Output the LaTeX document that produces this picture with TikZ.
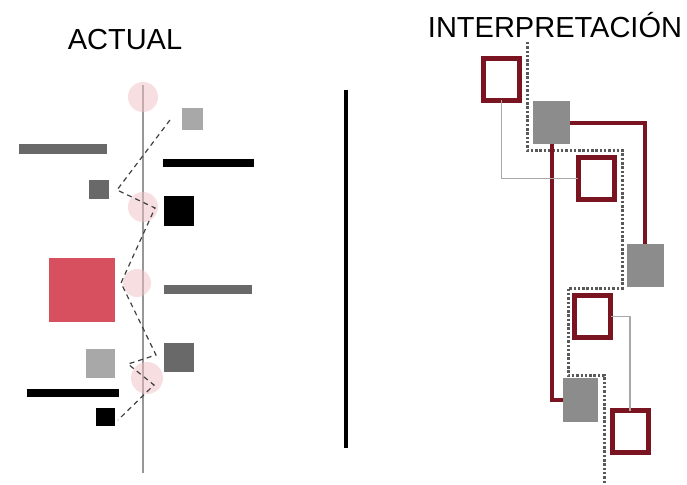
\documentclass[tikz,border=0pt]{standalone}
\usepackage{fontspec}
\setmainfont{Liberation Sans}
\usepackage{tikz}
\usetikzlibrary{positioning}

\definecolor{wine}{RGB}{122,20,32}
\definecolor{midgray}{RGB}{140,140,140}
\definecolor{lightgray}{RGB}{168,168,168}
\definecolor{darkgray}{RGB}{105,105,105}
\definecolor{rosered}{RGB}{214,80,96}
\definecolor{blush}{RGB}{240,190,196}

\begin{document}
\begin{tikzpicture}[x=1pt, y=-1pt,
        every node/.style={font=\fontsize{29}{33}\selectfont, inner sep=0pt, outer sep=0pt},
        redbox/.style={draw=wine, line width=5pt, fill=white, minimum width=36pt, minimum height=42pt},
        graybox/.style={fill=midgray, minimum width=37pt, minimum height=43pt},
        redlink/.style={draw=wine, line width=4pt},
        graylink/.style={draw=lightgray, line width=1.5pt},
        dotline/.style={draw=black!65, line width=3pt, dash pattern=on 2.5pt off 1.8pt},
        dashline/.style={draw=black!75, line width=1.2pt, dash pattern=on 5pt off 4pt},
        spot/.style={fill=blush, fill opacity=0.5}]
        \useasboundingbox (0,0) rectangle (687,484);

        % Titles
        \node[anchor=base] (T1) at (125,50) {ACTUAL};
        \node[anchor=base] (T2) at (555,38) {INTERPRETACIÓN};

        % Divider
        \draw[line width=4pt] (346,90) -- (346,448);

        % Actual: axis
        \draw[lightgray!90!black, line width=2.5pt] (143,85) -- (143,473);

        % Actual: blocks
        \fill[lightgray] (182,108) rectangle (203,130);
        \fill[darkgray] (19,144) rectangle (107,154);
        \fill[black] (163,159) rectangle (254,167);
        \fill[darkgray] (89,180) rectangle (109,199);
        \fill[black] (164,196) rectangle (194,226);
        \fill[rosered] (49,258) rectangle (115,322);
        \fill[darkgray] (164,285) rectangle (252,294);
        \fill[darkgray] (164,343) rectangle (194,372);
        \fill[lightgray] (86,349) rectangle (115,378);
        \fill[black] (27,389) rectangle (119,397);
        \fill[black] (96,408) rectangle (115,426);

        % Actual: spots on the axis
        \fill[spot] (143,97) circle (15);
        \fill[spot] (143,207) circle (15);
        \fill[spot] (137,283) circle (14);
        \fill[spot] (147,378) circle (16);

        % Actual: path
        \coordinate (P1) at (170,120);
        \coordinate (P2) at (117,190);
        \coordinate (P3) at (155,208);
        \coordinate (P4) at (121,283);
        \coordinate (P5) at (156,355);
        \coordinate (P6) at (128,364);
        \coordinate (P7) at (154,385);
        \coordinate (P8) at (118,420);
        \draw[dashline] (P1) -- (P2) -- (P3) -- (P4) -- (P5) -- (P6) -- (P7) -- (P8);

        % Interpretacion: dotted route
        \draw[dotline] (527,42) -- (527,150) -- (622,150) -- (622,288) -- (568,288)
            -- (568,375) -- (604,375) -- (604,484);

        % Interpretacion: boxes
        \node[redbox] (R1) at (501.5,79.5) {};
        \node[graybox] (G1) at (551.5,122.5) {};
        \node[redbox] (R2) at (596,178.5) {};
        \node[graybox] (G2) at (645,265) {};
        \node[redbox] (R3) at (592.5,316.5) {};
        \node[graybox, minimum width=35pt, minimum height=44pt] (G3) at (580.5,400) {};
        \node[redbox] (R4) at (630,431.5) {};

        % Interpretacion: links
        \draw[redlink] (G1.east) -| (G2.north);
        \draw[redlink] (G1.south) |- (G3.west);
        \draw[graylink] (R1.south) |- (R2.west);
        \draw[graylink] (R3.east) -| (R4.north);
\end{tikzpicture}
\end{document}
